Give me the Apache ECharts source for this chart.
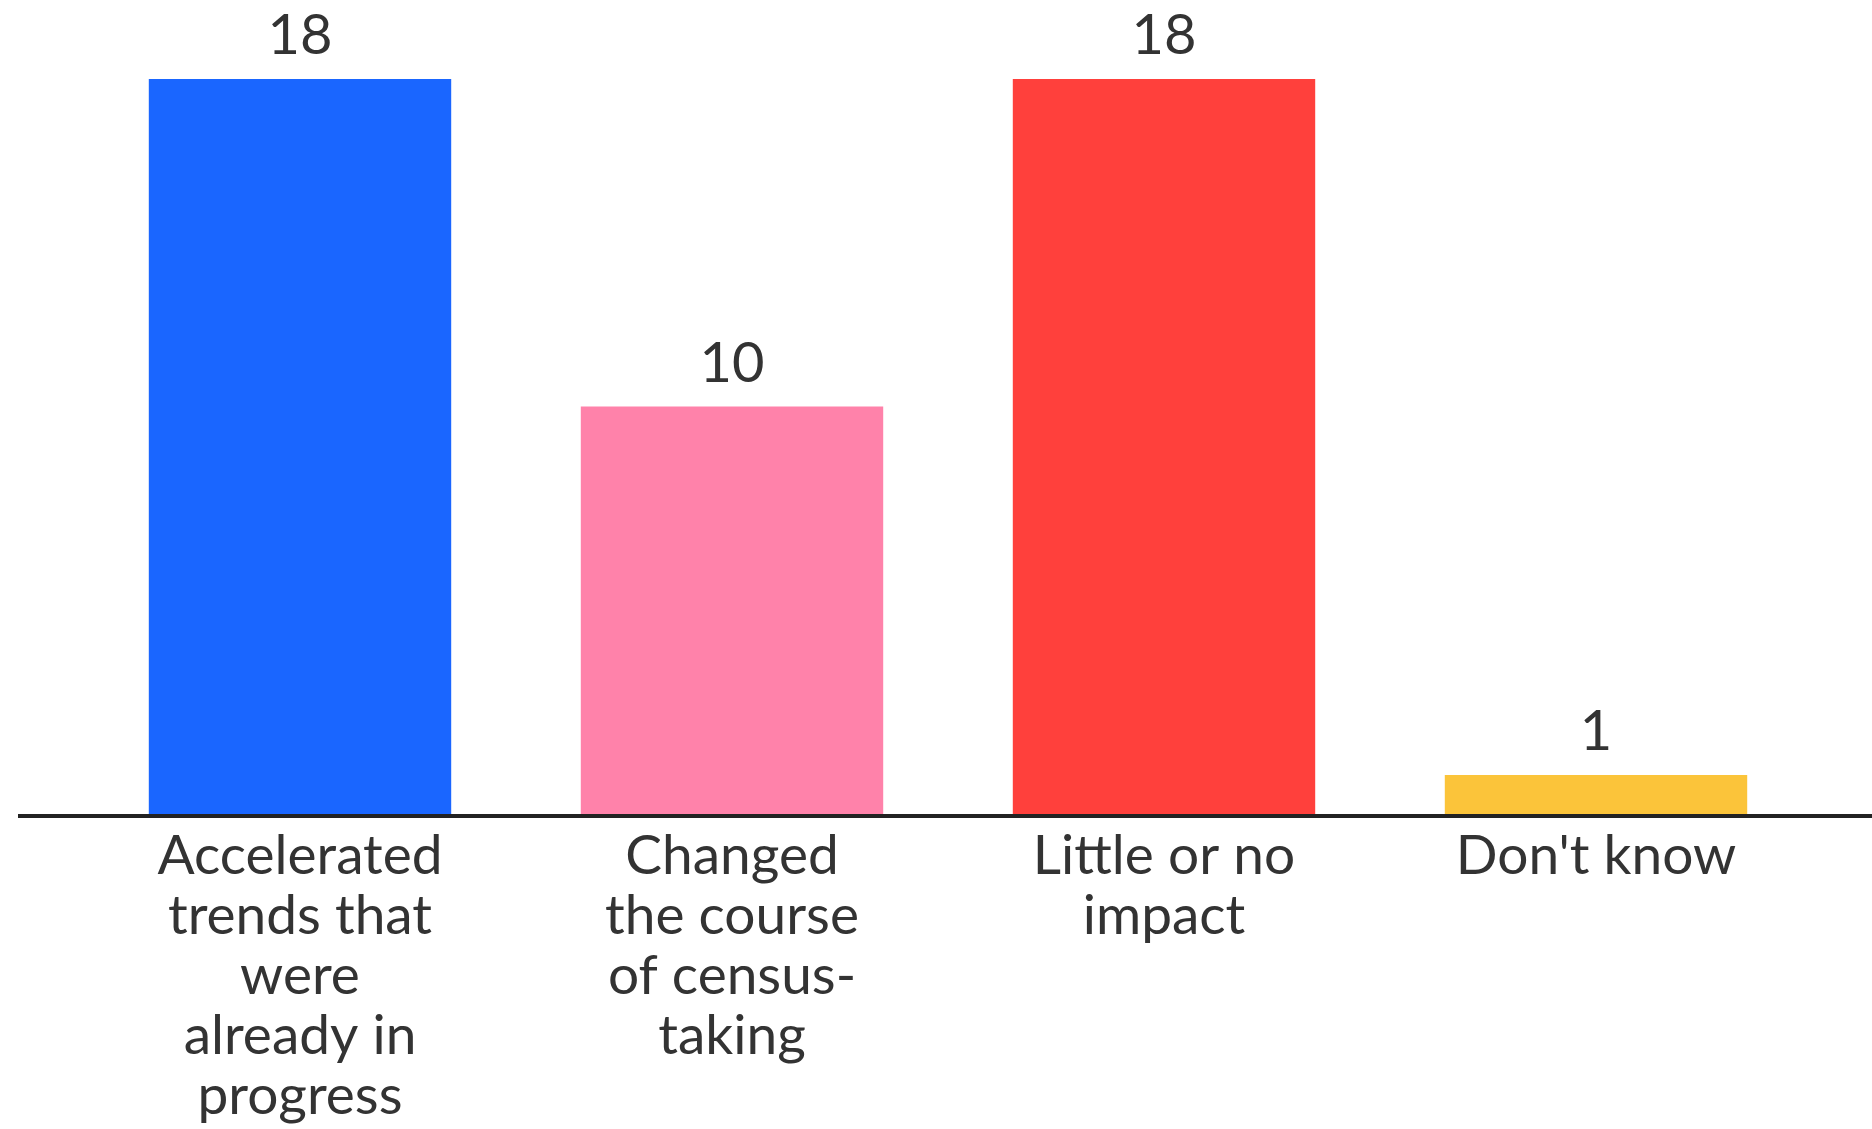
<!DOCTYPE html>
<html>
<head>
<meta charset="utf-8">
<script src="https://cdn.jsdelivr.net/npm/echarts@6/dist/echarts.min.js"></script>
<style>
html,body{margin:0;padding:0;background:#fff;}
#chart{width:1872px;height:1129px;}
</style>
</head>
<body>
<div id="chart"></div>
<script>
const categories = [
  "Accelerated\ntrends that\nwere\nalready in\nprogress",
  "Changed\nthe course\nof census-\ntaking",
  "Little or no\nimpact",
  "Don't know"
];
const values = [18, 10, 18, 1];
const barColors = ["#1a66ff", "#ff82aa", "#ff403c", "#fbc43a"];

const chart = echarts.init(document.getElementById('chart'));
const FONT = 'Lato, "Noto Sans", sans-serif';
chart.setOption({
  backgroundColor: '#ffffff',
  animation: false,
  grid: { left: 84, right: 60, top: 79, bottom: 313, containLabel: false },
  xAxis: {
    type: 'category',
    data: categories,
    axisLine: { show: false },
    axisTick: { show: false },
    axisLabel: {
      color: '#333333', fontFamily: FONT, fontSize: 55, lineHeight: 60,
      margin: 10, interval: 0, align: 'center'
    }
  },
  yAxis: {
    type: 'value', min: 0, max: 18,
    show: false, splitLine: { show: false }
  },
  series: [{
    type: 'bar',
    data: values.map((v, i) => ({ value: v, itemStyle: { color: barColors[i] } })),
    barWidth: '70%',
    label: {
      show: true, position: 'top', distance: 15,
      color: '#333333', fontFamily: FONT, fontSize: 56
    }
  }]
});
const y0 = chart.convertToPixel({ yAxisIndex: 0 }, 0);
chart.setOption({
  graphic: [{
    type: 'line', z: 100,
    shape: { x1: 18, y1: y0, x2: 1872, y2: y0 },
    style: { stroke: '#222222', lineWidth: 4 }
  }]
});
</script>
</body>
</html>
